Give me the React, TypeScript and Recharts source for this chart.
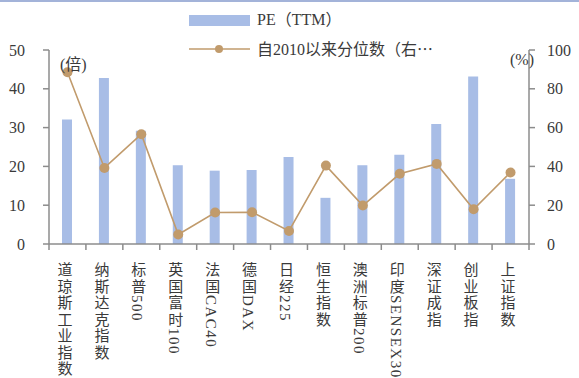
import { ComposedChart, Bar, Line, XAxis, YAxis } from "recharts";

const categories = [
  "道琼斯工业指数",
  "纳斯达克指数",
  "标普500",
  "英国富时100",
  "法国CAC40",
  "德国DAX",
  "日经225",
  "恒生指数",
  "澳洲标普200",
  "印度SENSEX30",
  "深证成指",
  "创业板指",
  "上证指数",
];
const peValues = [32.1, 42.8, 29.2, 20.3, 18.9, 19.1, 22.4, 11.9, 20.3, 23.0, 30.9, 43.2, 16.8];
const percentileValues = [88.5, 39.2, 56.6, 4.9, 16.2, 16.4, 6.7, 40.4, 19.8, 36.2, 41.3, 17.9, 36.9];
const leftTicks = [0, 10, 20, 30, 40, 50];
const rightTicks = [0, 20, 40, 60, 80, 100];
const seriesNames = ["PE（TTM）", "自2010以来分位数（右"];

const data = categories.map((name, i) => ({
  name,
  pe: peValues[i],
  pct: percentileValues[i],
}));

const BAR = "#a8bde6";
const LINE = "#c19b6c";
const AXIS = "#8c8c8c";
const TEXT = "#3a3a3a";
const FONT = "'Liberation Serif', 'Noto Sans CJK SC', serif";
const CJK = "'Noto Sans CJK SC', sans-serif";

// half of one category band, used for the boundary tick marks
const HALF = (529 - 49) / categories.length / 2;

function XTick(props: any) {
  const { x, y, payload, index } = props;
  return (
    <g>
      <line x1={x - HALF} x2={x - HALF} y1={y} y2={y + 6} stroke={AXIS} strokeWidth={1.5} />
      {index === categories.length - 1 && (
        <line x1={x + HALF} x2={x + HALF} y1={y} y2={y + 6} stroke={AXIS} strokeWidth={1.5} />
      )}
      <text
        x={x - 4}
        y={y + 18}
        fill={TEXT}
        fontSize={15}
        fontFamily={FONT}
        style={{ writingMode: "vertical-rl", letterSpacing: "1.5px" } as any}
      >
        {payload.value}
      </text>
    </g>
  );
}

export default function App() {
  return (
    <div style={{ position: "absolute", left: 0, top: 0, width: 579, height: 378, background: "#fff", overflow: "hidden" }}>
      <div style={{ position: "absolute", left: 0, top: 0, width: 579, height: 2, background: "#a3b3d9" }} />
      <ComposedChart
        width={579}
        height={378}
        data={data}
        margin={{ top: 50, right: 0, bottom: 0, left: 0 }}
        barCategoryGap={0}
      >
        <XAxis
          dataKey="name"
          xAxisId="x"
          interval={0}
          height={134}
          tickLine={false}
          tickSize={0}
          tickMargin={0}
          axisLine={{ stroke: AXIS, strokeWidth: 1.5 }}
          tick={<XTick />}
        />
        <YAxis
          yAxisId="left"
          domain={[0, 50]}
          ticks={leftTicks}
          width={49}
          tickSize={6}
          tickMargin={18}
          axisLine={{ stroke: AXIS, strokeWidth: 1.5 }}
          tickLine={{ stroke: AXIS, strokeWidth: 1.5 }}
          tick={{ fill: TEXT, fontSize: 16, fontFamily: FONT }}
        />
        <YAxis
          yAxisId="right"
          orientation="right"
          domain={[0, 100]}
          ticks={rightTicks}
          width={50}
          tickSize={6}
          tickMargin={12}
          axisLine={{ stroke: AXIS, strokeWidth: 1.5 }}
          tickLine={{ stroke: AXIS, strokeWidth: 1.5 }}
          tick={{ fill: TEXT, fontSize: 16, fontFamily: FONT, textAnchor: "start" }}
        />
        <Bar dataKey="pe" xAxisId="x" yAxisId="left" fill={BAR} barSize={10} isAnimationActive={false} />
        <Line
          dataKey="pct"
          xAxisId="x"
          yAxisId="right"
          stroke={LINE}
          strokeWidth={1.6}
          dot={{ r: 5, fill: LINE, stroke: LINE, strokeWidth: 0 }}
          activeDot={false}
          isAnimationActive={false}
        />
      </ComposedChart>
      <div style={{ position: "absolute", left: 60, top: 51, fontFamily: FONT, fontSize: 16, color: TEXT }}>(倍)</div>
      <div style={{ position: "absolute", left: 510, top: 51, fontFamily: FONT, fontSize: 16, color: TEXT }}>(%)</div>
      <div style={{ position: "absolute", left: 189, top: 6, fontFamily: FONT, fontSize: 16, color: TEXT, lineHeight: "28px" }}>
        <div style={{ display: "flex", alignItems: "center" }}>
          <span style={{ display: "inline-block", width: 61, height: 11, background: BAR, marginRight: 7 }} />
          <span>{seriesNames[0]}</span>
        </div>
        <div style={{ display: "flex", alignItems: "center" }}>
          <svg width={61} height={12} style={{ marginRight: 7 }}>
            <line x1={0} x2={61} y1={6} y2={6} stroke={LINE} strokeWidth={1.6} />
            <circle cx={30} cy={6} r={4} fill={LINE} />
          </svg>
          <span>
            {seriesNames[1]}
            <span style={{ fontFamily: CJK }}>⋯</span>
          </span>
        </div>
      </div>
    </div>
  );
}
